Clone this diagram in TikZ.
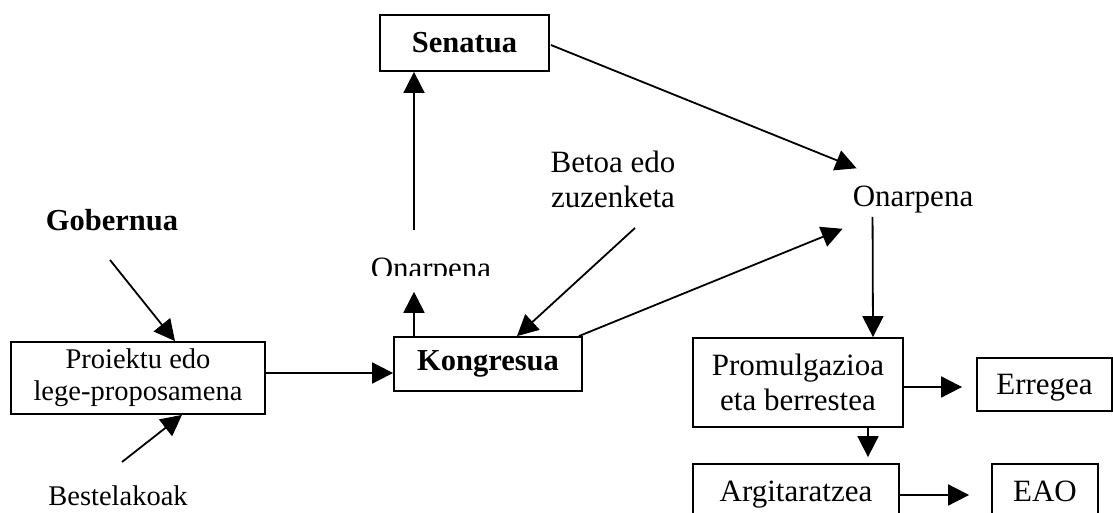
\documentclass[tikz,border=0pt]{standalone}
\usepackage{fontspec}
\setmainfont{Liberation Serif}
\usetikzlibrary{arrows.meta,calc}

\begin{document}
\begin{tikzpicture}[x=1pt,y=-1pt,
  txt/.style={font=\fontsize{31}{35}\selectfont},
  txtsmall/.style={font=\fontsize{28.5}{32}\selectfont},
  txtbold/.style={font=\fontsize{30.5}{35}\selectfont\bfseries},
  box/.style={draw, line width=1.8pt, inner sep=0pt, align=center, txt},
  lbl/.style={inner sep=0pt, align=center, txt},
  arr/.style={line width=1.8pt, -{Triangle[length=21pt,width=21pt]}}]
\useasboundingbox (0,0) rectangle (1113,513);
\clip (0,0) rectangle (1113,513);

% boxes
\node[box, txtbold, minimum width=169, minimum height=56] (sen) at (464.5,43) {Senatua};
\node[box, txtbold, minimum width=188, minimum height=54] (kon) at (488,364) {Kongresua};
\node[box, txtsmall, minimum width=254, minimum height=72] (pro) at (138,378) {Proiektu edo\\lege-proposamena};
\node[box, minimum width=210, minimum height=89] (prm) at (798,382.5) {Promulgazioa\\eta berrestea};
\node[box, text depth=0pt, minimum width=135, minimum height=53] (err) at (1044.5,384.5) {Erregea};
\node[box, text depth=0pt, minimum width=206, minimum height=54] (arg) at (796,491) {Argitaratzea};
\node[box, minimum width=106, minimum height=54] (eao) at (1045,491) {EAO};

% free labels
\node[lbl, txtbold, anchor=base] (gob) at (112,230) {Gobernua};
\node[lbl, txtsmall, anchor=base] (bes) at (118,505) {Bestelakoak};
\node[lbl] (bet) at (613,179) {Betoa edo\\zuzenketa};
\node[lbl, anchor=base] (onR) at (913,207) {Onarpena};
\begin{scope}
  \clip (300,240) rectangle (560,275);
  \node[lbl, anchor=base] (onL) at (431,278) {Onarpena};
\end{scope}

% free ends of the incoming arrows
\coordinate (gobS) at (110,260);
\coordinate (besS) at (122,462);
\coordinate (betS) at (635,228);

% connectors
\draw[arr] (gobS) -- (pro.north -| 175,0);
\draw[arr] (besS) -- (pro.south -| 182,0);
\draw[arr] (pro.east |- 0,373) -- (kon.west |- 0,373);
\draw[arr, shorten >=7pt] (kon.north -| 414,0) -- (onL.south -| 414,0);
\draw[arr, shorten <=27pt] (onL.north -| 414,0) -- (sen.south -| 414,0);
\draw[arr] (betS) -- (kon.north -| 517,0);
\draw[arr] (kon.north east) ++(-4,0) -- ($(onR.south west)+(-10,15)$);
\draw[arr] (sen.east) ++(1,2) -- ($(onR.north west)+(4,-18)$);
\draw[arr] ($(onR.south west)+(20,3)$) -- (prm.north -| 873,0);
\draw[arr, shorten >=14pt] (prm.east |- 0,387) -- (err.west |- 0,387);
\draw[arr, shorten >=6pt] (prm.south -| 868,0) -- (arg.north -| 868,0);
\draw[arr, shorten >=22pt] (arg.east |- 0,495) -- (eao.west |- 0,495);
\end{tikzpicture}
\end{document}
